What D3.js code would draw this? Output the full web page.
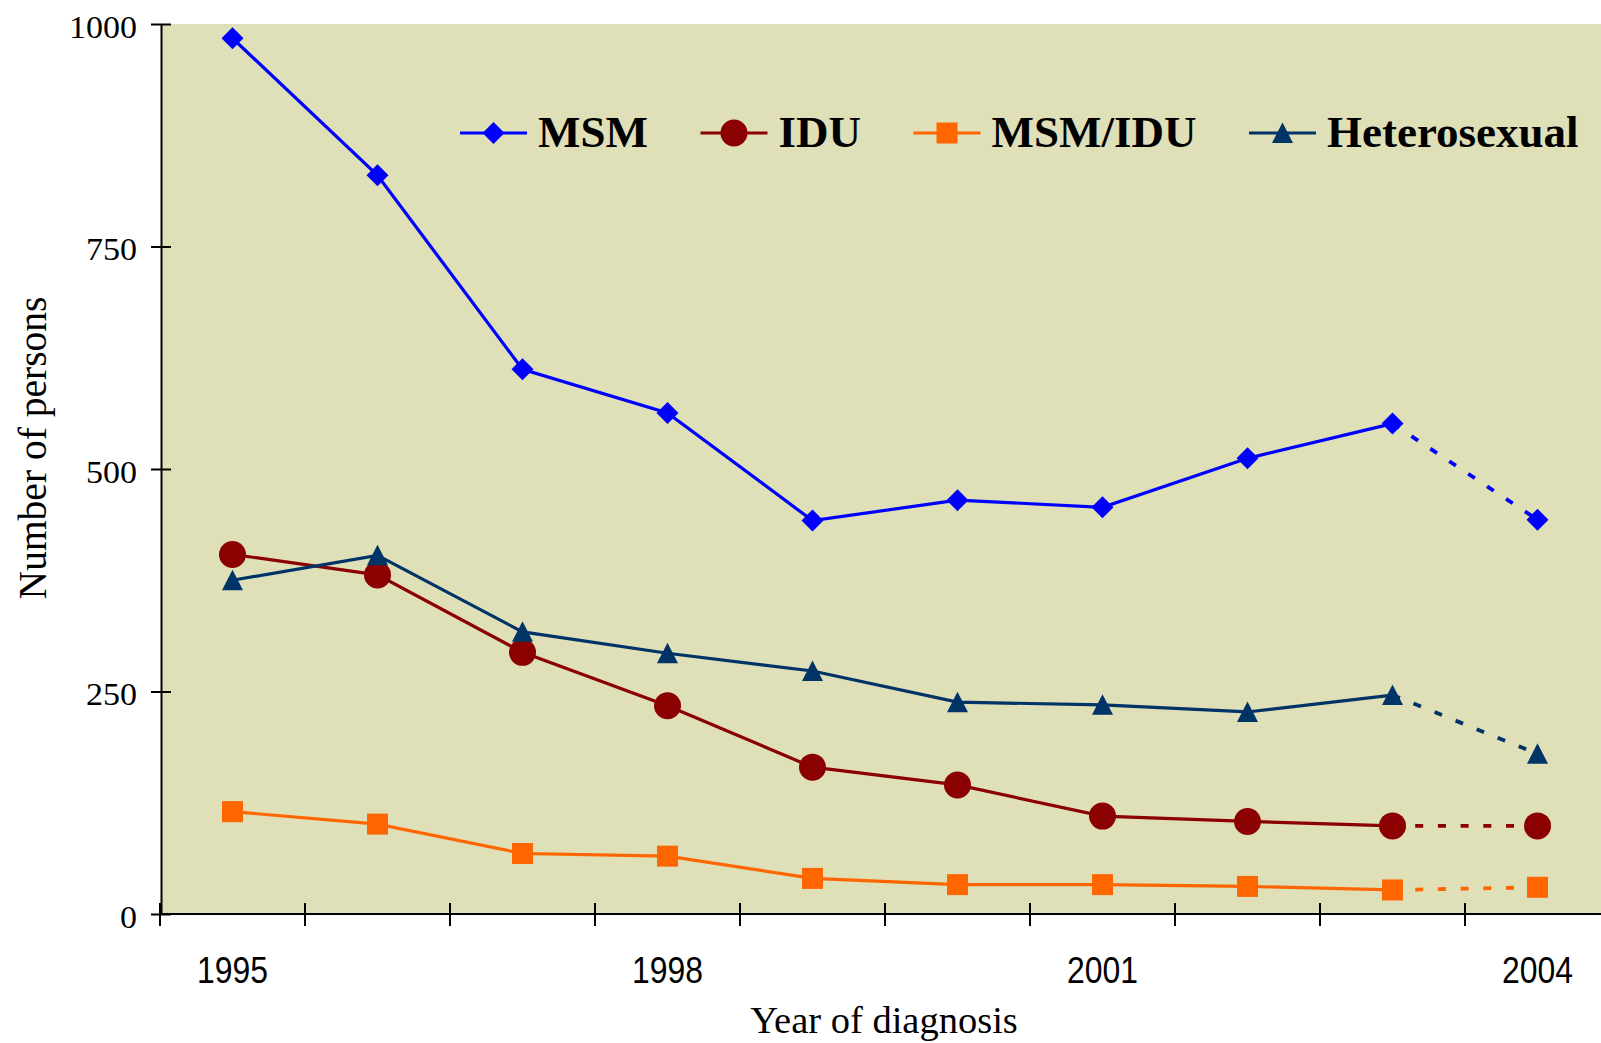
<!DOCTYPE html>
<html>
<head>
<meta charset="utf-8">
<script src="https://cdn.jsdelivr.net/npm/d3@7"></script>
<style>
  body { margin: 0; background: #fff; }
  svg { display: block; }
</style>
</head>
<body>
<svg width="1601" height="1043"></svg>
<script>
// data
const years = [1995, 1996, 1997, 1998, 1999, 2000, 2001, 2002, 2003, 2004];
const labelYears = [1995, 1998, 2001, 2004];
const yTicks = [0, 250, 500, 750, 1000];

const msm = [984, 830, 612, 563, 442, 465, 457, 512, 551, 443];
const idu = [404, 381, 294, 234, 165, 145, 110, 104, 99, 99];
const msmIdu = [115, 101, 68, 65, 40, 33, 33, 31, 27, 30];
const hetero = [375, 403, 317, 293, 273, 238, 235, 227, 246, 180];

const seriesNames = ['MSM', 'IDU', 'MSM/IDU', 'Heterosexual'];
const seriesColors = ['#0000ff', '#8b0000', '#ff6600', '#003366'];
const seriesShapes = ['diamond', 'circle', 'square', 'triangle'];
const seriesValues = [msm, idu, msmIdu, hetero];

const series = seriesNames.map((name, i) => ({
    name: name,
    color: seriesColors[i],
    shape: seriesShapes[i],
    values: years.map((yr, j) => ({ year: yr, value: seriesValues[i][j] }))
}));

const svg = d3.select('svg');
const plot = { left: 161, top: 24, right: 1601, bottom: 914 };

// scales
const x = d3.scaleBand().domain(years).range([160, 1610]).padding(0);
const y = d3.scaleLinear().domain([0, 1000]).range([plot.bottom, plot.top]);
const cx = d => x(d.year) + x.bandwidth() / 2;

// plot background
svg.append('rect')
    .attr('x', plot.left).attr('y', plot.top)
    .attr('width', plot.right - plot.left)
    .attr('height', plot.bottom - plot.top)
    .attr('fill', '#dfdfb8');

// y axis
const yAxis = svg.append('g')
    .attr('transform', `translate(${plot.left},0)`)
    .call(d3.axisLeft(y).tickValues(yTicks).tickFormat(d3.format('d'))
        .tickSizeInner(10).tickSizeOuter(0));
yAxis.select('.domain').attr('stroke', '#000').attr('stroke-width', 2);
yAxis.selectAll('.tick line').attr('x1', 10).attr('x2', -10).attr('stroke-width', 2);
yAxis.selectAll('.tick text')
    .attr('x', -24).attr('dy', 13)
    .attr('font-family', '"Liberation Serif", "Times New Roman", serif')
    .attr('font-size', 32).attr('fill', '#000')
    .attr('textLength', d => String(d).length * 17)
    .attr('lengthAdjust', 'spacingAndGlyphs');

// x axis (ticks between categories, like the spreadsheet original)
const xAxis = svg.append('g');
xAxis.append('line')
    .attr('x1', plot.left).attr('x2', plot.right)
    .attr('y1', plot.bottom).attr('y2', plot.bottom)
    .attr('stroke', '#000').attr('stroke-width', 2);
xAxis.selectAll('.xtick').data(years).enter().append('line')
    .attr('class', 'xtick')
    .attr('x1', d => x(d)).attr('x2', d => x(d))
    .attr('y1', plot.bottom - 11).attr('y2', plot.bottom + 12)
    .attr('stroke', '#000').attr('stroke-width', 2);
xAxis.selectAll('.xlabel').data(labelYears).enter().append('text')
    .attr('class', 'xlabel')
    .attr('x', d => x(d) + x.bandwidth() / 2)
    .attr('y', 983)
    .attr('text-anchor', 'middle')
    .attr('font-family', '"Liberation Sans Narrow", "Arial Narrow", "Liberation Sans", sans-serif')
    .attr('font-size', 37)
    .attr('textLength', 71)
    .attr('lengthAdjust', 'spacingAndGlyphs')
    .text(d => d);

// axis titles
svg.append('text')
    .attr('x', 884).attr('y', 1033)
    .attr('text-anchor', 'middle')
    .attr('font-family', '"Liberation Serif", "Times New Roman", serif')
    .attr('font-size', 38.5)
    .text('Year of diagnosis');

svg.append('text')
    .attr('transform', 'translate(46,448) rotate(-90)')
    .attr('text-anchor', 'middle')
    .attr('font-family', '"Liberation Serif", "Times New Roman", serif')
    .attr('font-size', 39.5)
    .text('Number of persons');

// marker shapes
const markerPath = shape => {
    if (shape === 'diamond') return 'M0,-11L11,0L0,11L-11,0Z';
    if (shape === 'square') return 'M-10.5,-10.5H10.5V10.5H-10.5Z';
    if (shape === 'triangle') return 'M0,-10.5L10.5,10L-10.5,10Z';
    return d3.symbol(d3.symbolCircle, Math.PI * 13.5 * 13.5)();
};

const line = d3.line().x(cx).y(d => y(d.value));

const seriesG = svg.selectAll('.series').data(series).enter().append('g')
    .attr('class', 'series');

// solid up to 2003, dotted for the last (provisional) year
seriesG.append('path')
    .attr('d', s => line(s.values.slice(0, -1)))
    .attr('fill', 'none')
    .attr('stroke', s => s.color)
    .attr('stroke-width', 3.2);
seriesG.append('path')
    .attr('d', s => line(s.values.slice(-2)))
    .attr('fill', 'none')
    .attr('stroke', s => s.color)
    .attr('stroke-width', 3.8)
    .attr('stroke-dasharray', '8,14.7');

seriesG.each(function (s) {
    d3.select(this).selectAll('.marker').data(s.values).enter().append('path')
        .attr('class', 'marker')
        .attr('transform', d => `translate(${cx(d)},${y(d.value)})`)
        .attr('d', markerPath(s.shape))
        .attr('fill', s.color);
});

// legend
const legend = svg.append('g').attr('transform', 'translate(460,133)');
let lx = 0;
series.forEach(s => {
    const item = legend.append('g').attr('transform', `translate(${lx},0)`);
    item.append('line')
        .attr('x1', 0).attr('x2', 67)
        .attr('stroke', s.color).attr('stroke-width', 3.2);
    item.append('path')
        .attr('transform', 'translate(33.5,0)')
        .attr('d', markerPath(s.shape))
        .attr('fill', s.color);
    const t = item.append('text')
        .attr('x', 78).attr('y', 14)
        .attr('font-family', '"Liberation Serif", "Times New Roman", serif')
        .attr('font-weight', 'bold')
        .attr('font-size', 45)
        .text(s.name);
    lx += 78 + t.node().getComputedTextLength() + 52.5;
});
</script>
</body>
</html>
